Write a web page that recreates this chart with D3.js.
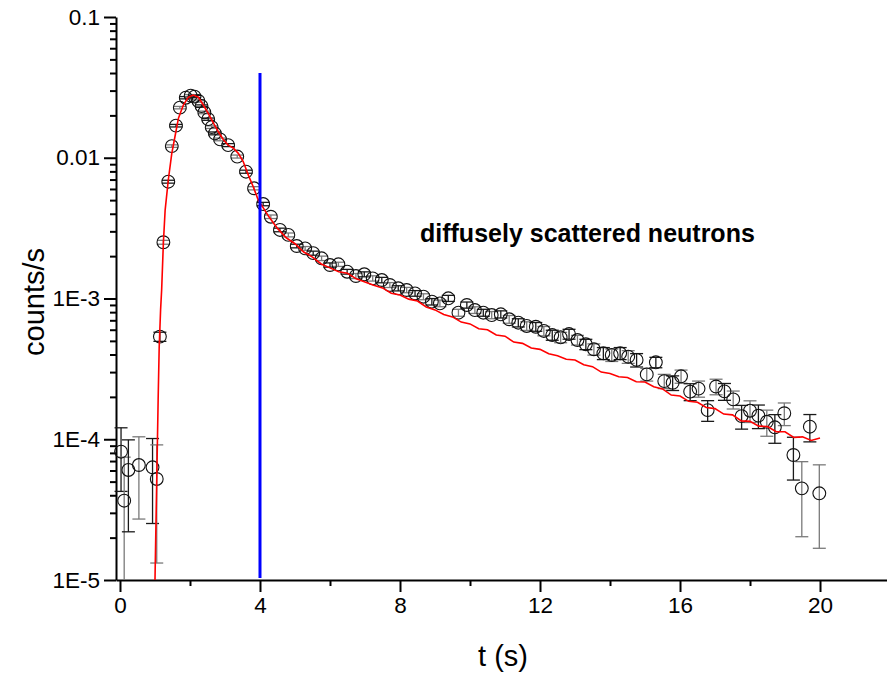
<!DOCTYPE html>
<html>
<head>
<meta charset="utf-8">
<script src="https://cdn.jsdelivr.net/npm/d3@7"></script>
<style>
  body { margin: 0; background: #fff; }
  svg { display: block; font-family: "Liberation Sans", Arial, sans-serif; }
</style>
</head>
<body>
<div id="chart"></div>
<script>
// measured points: time (s), counts/s, error
var tObs = [0.03, 0.12, 0.24, 0.54, 0.93, 1.05, 1.14, 1.24, 1.38, 1.48,
  1.60, 1.71, 1.88, 2.02, 2.13, 2.24, 2.33, 2.41, 2.52, 2.62,
  2.71, 2.86, 3.09, 3.35, 3.60, 3.83, 4.09, 4.31, 4.57, 4.81,
  5.05, 5.29, 5.52, 5.76, 6.00, 6.24, 6.49, 6.74, 6.98, 7.22,
  7.48, 7.71, 7.95, 8.19, 8.43, 8.67, 8.91, 9.14, 9.38, 9.67,
  9.91, 10.14, 10.38, 10.62, 10.88, 11.12, 11.38, 11.62, 11.88, 12.11,
  12.35, 12.59, 12.83, 13.07, 13.31, 13.54, 13.81, 14.05, 14.29, 14.52,
  14.76, 15.05, 15.31, 15.55, 15.79, 16.03, 16.29, 16.53, 16.79, 17.03,
  17.27, 17.52, 17.76, 18.00, 18.24, 18.48, 18.71, 18.98, 19.24, 19.48,
  19.71, 19.98]

var cObs = [8.16e-5, 3.66e-5, 6.05e-5, 6.56e-5, 6.32e-5, 5.22e-5, 5.36e-4, 2.51e-3, 6.76e-3, 1.21e-2,
  1.69e-2, 2.27e-2, 2.67e-2, 2.76e-2, 2.72e-2, 2.53e-2, 2.33e-2, 2.10e-2, 1.88e-2, 1.65e-2,
  1.49e-2, 1.35e-2, 1.23e-2, 1.02e-2, 7.96e-3, 6.07e-3, 4.69e-3, 3.81e-3, 3.07e-3, 2.83e-3,
  2.36e-3, 2.27e-3, 2.10e-3, 1.93e-3, 1.73e-3, 1.75e-3, 1.55e-3, 1.445e-3, 1.486e-3, 1.39e-3,
  1.353e-3, 1.247e-3, 1.182e-3, 1.149e-3, 1.088e-3, 1.030e-3, 9.49e-4, 9.24e-4, 1.003e-3, 7.93e-4,
  8.99e-4, 8.28e-4, 7.93e-4, 7.63e-4, 7.72e-4, 7.12e-4, 6.73e-4, 6.38e-4, 6.30e-4, 5.88e-4,
  5.50e-4, 5.30e-4, 5.59e-4, 5.07e-4, 4.73e-4, 4.36e-4, 4.08e-4, 3.97e-4, 4.08e-4, 3.86e-4,
  3.66e-4, 2.89e-4, 3.52e-4, 2.59e-4, 2.52e-4, 2.80e-4, 2.18e-4, 2.29e-4, 1.61e-4, 2.37e-4,
  2.19e-4, 1.92e-4, 1.46e-4, 1.595e-4, 1.47e-4, 1.33e-4, 1.216e-4, 1.53e-4, 7.73e-5, 4.48e-5,
  1.228e-4, 4.13e-5]

var eObs = [3.9e-5, 3.8e-5, 3.85e-5, 3.85e-5, 3.8e-5, 3.9e-5, 4e-5, 8e-5, 1.6e-4, 2.5e-4,
  3.5e-4, 4.5e-4, 5e-4, 5e-4, 5e-4, 5e-4, 4.5e-4, 4.5e-4, 3.5e-4, 3.5e-4,
  3.5e-4, 3e-4, 3e-4, 2.5e-4, 2e-4, 1.6e-4, 1.3e-4, 1.1e-4, 9e-5, 9e-5,
  7e-5, 7e-5, 7e-5, 7e-5, 6e-5, 6e-5, 6e-5, 6e-5, 6e-5, 6e-5,
  6e-5, 5e-5, 5e-5, 5e-5, 5e-5, 5e-5, 5e-5, 5e-5, 5e-5, 4.5e-5,
  4.5e-5, 4.5e-5, 4.5e-5, 4.5e-5, 4.5e-5, 4.5e-5, 4.5e-5, 4.5e-5, 4.5e-5, 4.5e-5,
  4.5e-5, 4.5e-5, 4.5e-5, 4e-5, 4e-5, 4e-5, 4e-5, 4e-5, 4e-5, 4e-5,
  4e-5, 3e-5, 3e-5, 3e-5, 3e-5, 3e-5, 3e-5, 3e-5, 2.7e-5, 3e-5,
  3e-5, 2.8e-5, 2.8e-5, 2.8e-5, 2.8e-5, 2.8e-5, 2.8e-5, 2.8e-5, 2.6e-5, 2.45e-5,
  2.7e-5, 2.45e-5]

// simulation curve
var tModel = [1.00, 1.04, 1.09, 1.12, 1.16, 1.19, 1.24, 1.29, 1.38, 1.48,
  1.57, 1.67, 1.81, 1.95, 2.09, 2.24, 2.38, 2.52, 2.67, 2.81,
  2.95, 3.09, 3.24, 3.38, 3.52, 3.67, 3.81, 3.95, 4.00, 4.25,
  4.50, 4.75, 5.00, 5.25, 5.50, 5.75, 6.00, 6.25, 6.50, 6.75,
  7.00, 7.25, 7.50, 7.75, 8.00, 8.25, 8.50, 8.75, 9.00, 9.25,
  9.50, 9.75, 10.00, 10.25, 10.50, 10.75, 11.00, 11.25, 11.50, 11.75,
  12.00, 12.25, 12.50, 12.75, 13.00, 13.25, 13.50, 13.75, 14.00, 14.25,
  14.50, 14.75, 15.00, 15.25, 15.50, 15.75, 16.00, 16.25, 16.50, 16.75,
  17.00, 17.25, 17.50, 17.75, 18.00, 18.25, 18.50, 18.75, 19.00, 19.25,
  19.50, 19.75, 20.00]

var cModel = [1.0e-5, 3.7e-5, 1.9e-4, 4.5e-4, 8.3e-4, 1.15e-3, 2.5e-3, 4.25e-3, 6.95e-3, 1.075e-2,
  1.41e-2, 1.91e-2, 2.37e-2, 2.69e-2, 2.79e-2, 2.69e-2, 2.37e-2, 2.07e-2, 1.76e-2, 1.53e-2,
  1.35e-2, 1.23e-2, 1.17e-2, 1.075e-2, 9.4e-3, 7.5e-3, 6.2e-3, 5.0e-3, 4.8e-3, 3.82e-3,
  3.15e-3, 2.70e-3, 2.45e-3, 2.14e-3, 1.97e-3, 1.76e-3, 1.65e-3, 1.55e-3, 1.51e-3, 1.38e-3,
  1.31e-3, 1.24e-3, 1.19e-3, 1.09e-3, 1.06e-3, 9.9e-4, 9.6e-4, 8.7e-4, 8.3e-4, 7.7e-4,
  7.4e-4, 6.8e-4, 6.6e-4, 6.1e-4, 6.0e-4, 5.5e-4, 5.4e-4, 4.9e-4, 4.8e-4, 4.45e-4,
  4.35e-4, 4.05e-4, 3.92e-4, 3.7e-4, 3.66e-4, 3.38e-4, 3.28e-4, 3.0e-4, 2.93e-4, 2.78e-4,
  2.75e-4, 2.56e-4, 2.55e-4, 2.36e-4, 2.28e-4, 2.06e-4, 2.03e-4, 1.86e-4, 1.83e-4, 1.68e-4,
  1.65e-4, 1.51e-4, 1.49e-4, 1.35e-4, 1.34e-4, 1.24e-4, 1.23e-4, 1.13e-4, 1.13e-4, 1.03e-4,
  1.04e-4, 0.98e-4, 1.02e-4]

// vertical marker
var markerT = 4
var markerRange = [1e-5, 0.04]

// ticks
var xMajor = [0, 4, 8, 12, 16, 20]
var xMinor = [2, 6, 10, 14, 18]
var yMajor = [1e-5, 1e-4, 1e-3, 1e-2, 1e-1]
var yMajorLabels = ["1E-5", "1E-4", "1E-3", "0.01", "0.1"]
var yMinor = [2e-5, 3e-5, 4e-5, 5e-5, 6e-5, 7e-5, 8e-5, 9e-5,
  2e-4, 3e-4, 4e-4, 5e-4, 6e-4, 7e-4, 8e-4, 9e-4,
  2e-3, 3e-3, 4e-3, 5e-3, 6e-3, 7e-3, 8e-3, 9e-3,
  2e-2, 3e-2, 4e-2, 5e-2, 6e-2, 7e-2, 8e-2, 9e-2]

var width = 887, height = 677

var svg = d3.select("#chart")
  .append("svg")
  .attr("width", width)
  .attr("height", height)

var x = d3.scaleLinear().domain([-0.114, 21.914]).range([116, 887])
var y = d3.scaleLog().domain([1e-5, 0.1]).range([580, 17])

// Axes
svg.append("g")
  .attr("transform", "translate(0,580)")
  .call(d3.axisBottom(x).tickValues(xMajor).tickSize(12).tickSizeOuter(0).tickPadding(5))
svg.append("g")
  .attr("class", "minor")
  .attr("transform", "translate(0,580)")
  .call(d3.axisBottom(x).tickValues(xMinor).tickSize(6).tickFormat(""))

svg.append("g")
  .attr("transform", "translate(116,0)")
  .call(d3.axisLeft(y).tickValues(yMajor).tickSize(12).tickSizeOuter(0).tickPadding(4)
    .tickFormat(function(d, i) { return yMajorLabels[i] }))
svg.append("g")
  .attr("class", "minor")
  .attr("transform", "translate(116,0)")
  .call(d3.axisLeft(y).tickValues(yMinor).tickSize(6).tickFormat(""))

svg.selectAll(".minor path").remove()
svg.selectAll(".tick line").attr("stroke", "#000").attr("stroke-width", 2)
svg.selectAll(".domain").attr("stroke", "#000").attr("stroke-width", 2)
svg.selectAll(".tick text")
  .attr("fill", "#000")
  .style("font-family", "'Liberation Sans', Arial, sans-serif")
  .style("font-size", "22.5px")

// Error bars + points
var pts = tObs.map(function(t, i) { return {t: t, c: cObs[i], e: eObs[i], i: i} })

var bars = svg.append("g")
bars.selectAll("g")
  .data(pts)
  .enter()
  .append("g")
  .attr("stroke", function(d) { return d.i % 2 ? "#7a7a7a" : "#1a1a1a" })
  .attr("stroke-width", 1.3)
  .each(function(d) {
    var g = d3.select(this)
    var cx = x(d.t)
    var hi = y(d.c + d.e)
    var lo = d.c - d.e > 1e-5 ? y(d.c - d.e) : y(1e-5)
    g.append("line").attr("x1", cx).attr("x2", cx).attr("y1", hi).attr("y2", lo)
    g.append("line").attr("x1", cx - 6.5).attr("x2", cx + 6.5).attr("y1", hi).attr("y2", hi)
    if (d.c - d.e > 1e-5) {
      g.append("line").attr("x1", cx - 6.5).attr("x2", cx + 6.5).attr("y1", lo).attr("y2", lo)
    }
  })

svg.append("g")
  .selectAll("circle")
  .data(pts)
  .enter()
  .append("circle")
  .attr("cx", function(d) { return x(d.t) })
  .attr("cy", function(d) { return y(d.c) })
  .attr("r", 6.4)
  .attr("fill", "none")
  .attr("stroke", "#111")
  .attr("stroke-width", 1.1)

// Model curve
var line = d3.line()
  .x(function(d, i) { return x(tModel[i]) })
  .y(function(d) { return y(d) })

svg.append("path")
  .datum(cModel)
  .attr("d", line)
  .attr("fill", "none")
  .attr("stroke", "#ff0000")
  .attr("stroke-width", 1.6)

// Marker line
svg.append("line")
  .attr("x1", x(markerT)).attr("x2", x(markerT))
  .attr("y1", y(markerRange[0]) - 2).attr("y2", y(markerRange[1]))
  .attr("stroke", "#0000ff")
  .attr("stroke-width", 3)

// Labels
svg.append("text")
  .attr("x", 420)
  .attr("y", 242)
  .style("font-size", "25px")
  .style("font-weight", "bold")
  .text("diffusely scattered neutrons")

svg.append("text")
  .attr("transform", "translate(44,302) rotate(-90)")
  .attr("text-anchor", "middle")
  .style("font-size", "29px")
  .text("counts/s")

svg.append("text")
  .attr("x", 503)
  .attr("y", 666)
  .attr("text-anchor", "middle")
  .style("font-size", "29px")
  .text("t (s)")
</script>
</body>
</html>
